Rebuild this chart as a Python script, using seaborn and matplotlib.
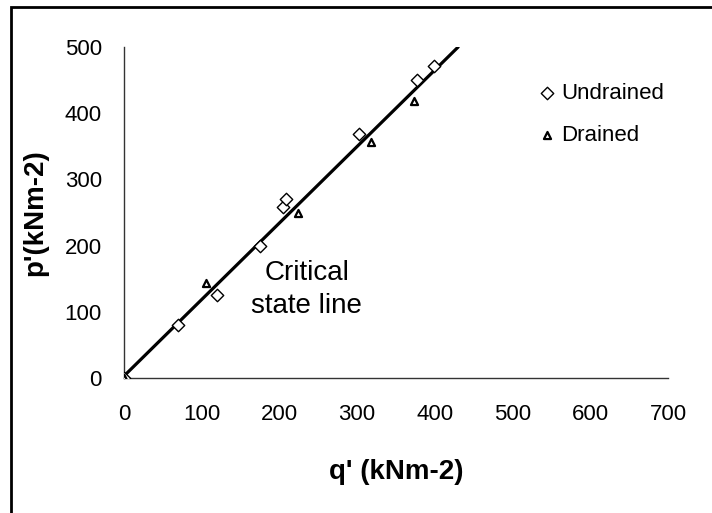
import matplotlib
matplotlib.use("Agg")
import matplotlib.pyplot as plt
import seaborn as sns
import pandas as pd
from matplotlib.patches import Rectangle

# Data
undrained_q = [0, 70, 120, 175, 204, 209, 303, 377, 399]
undrained_p = [0, 80, 125, 200, 258, 270, 369, 450, 472]
drained_q = [0, 105, 224, 318, 373]
drained_p = [0, 144, 250, 356, 418]
csl_q = [0, 430]
csl_p = [3, 500]
x_ticks = [0, 100, 200, 300, 400, 500, 600, 700]
y_ticks = [0, 100, 200, 300, 400, 500]

sns.set_theme(style="white")
plt.rcParams["font.family"] = ["Liberation Sans", "DejaVu Sans"]
plt.rcParams["text.color"] = "black"
plt.rcParams["axes.labelcolor"] = "black"

W, H = 712, 513
fig = plt.figure(figsize=(W / 100, H / 100), dpi=100)
ax = fig.add_axes([124 / W, 1 - 378 / H, (668 - 124) / W, (378 - 47) / H])

df_u = pd.DataFrame({"q": undrained_q, "p": undrained_p})
df_d = pd.DataFrame({"q": drained_q, "p": drained_p})
df_l = pd.DataFrame({"q": csl_q, "p": csl_p})

sns.lineplot(data=df_l, x="q", y="p", ax=ax, color="black", linewidth=2.3, zorder=2)
sns.scatterplot(data=df_u, x="q", y="p", ax=ax, marker="D", s=40,
                facecolor="white", edgecolor="black", linewidth=1.0,
                label="Undrained", zorder=3)
sns.scatterplot(data=df_d, x="q", y="p", ax=ax, marker="^", s=26,
                facecolor="white", edgecolor="black", linewidth=1.6,
                label="Drained", zorder=3)

ax.set_xlim(0, 700)
ax.set_ylim(0, 500)
ax.set_xticks(x_ticks)
ax.set_yticks(y_ticks)
ax.tick_params(axis="both", which="major", direction="out", length=6, width=1,
               color="#333333", labelsize=16, labelcolor="black")
ax.tick_params(axis="x", pad=13)
ax.tick_params(axis="y", pad=10)
for s in ["top", "right"]:
    ax.spines[s].set_visible(False)
for s in ["left", "bottom"]:
    ax.spines[s].set_color("#333333")
    ax.spines[s].set_linewidth(1.0)
ax.set_facecolor("white")

ax.set_xlabel("q' (kNm-2)", fontsize=20, fontweight="bold", labelpad=24, color="black")
ax.set_ylabel("p'(kNm-2)", fontsize=20, fontweight="bold", labelpad=12, color="black")

ax.text(235, 134, "Critical\nstate line", fontsize=20, ha="center", va="center",
        linespacing=1.35, color="black")

leg = ax.legend(loc="upper left", bbox_to_anchor=(0.74, 0.918), frameon=False,
                fontsize=16, handletextpad=0.15, labelspacing=0.95,
                handlelength=1.0, borderaxespad=0, labelcolor="black")

fig.patches.append(Rectangle((10.5 / W, -0.1), 1.2, 1.1 - 7 / H,
                             transform=fig.transFigure, fill=False,
                             edgecolor="black", linewidth=2.0, zorder=10))

fig.savefig("out.png", dpi=100, facecolor="white")
